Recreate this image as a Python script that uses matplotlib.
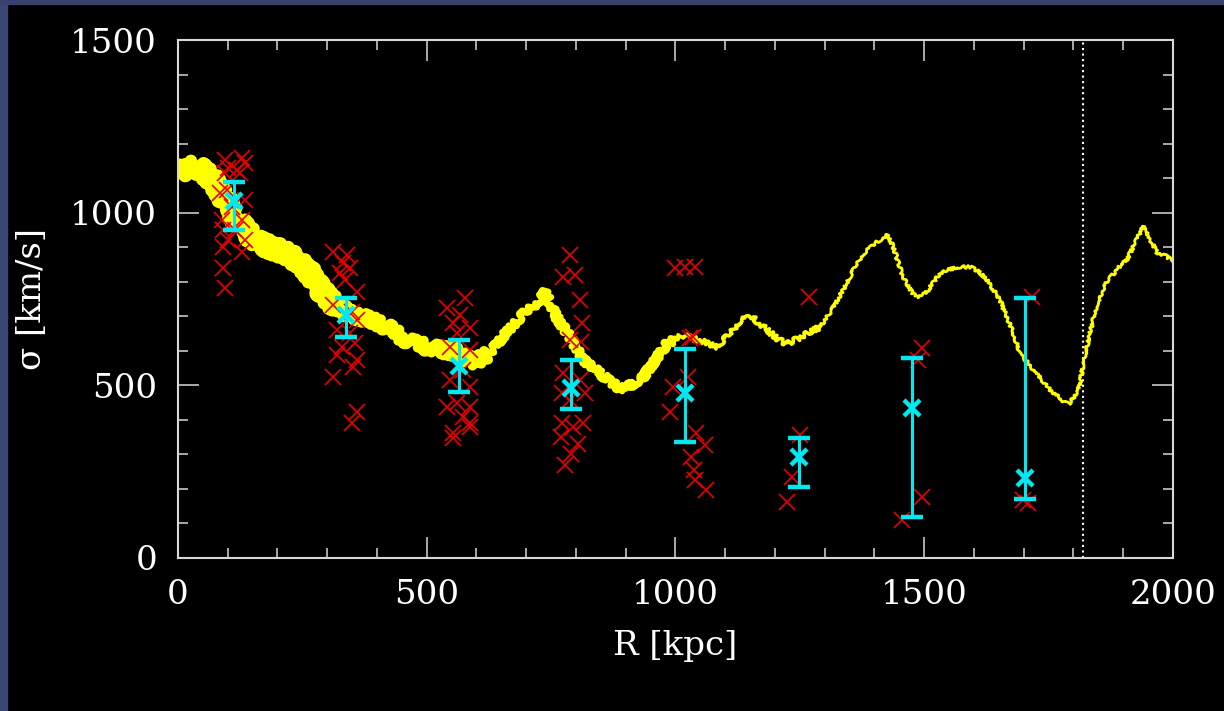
import numpy as np
import matplotlib
matplotlib.use("Agg")
import matplotlib.pyplot as plt
from matplotlib.patches import Rectangle
from matplotlib.ticker import MultipleLocator

# smoothed dispersion profile (yellow)
prof_r = [0, 20, 40, 60, 75, 90, 105, 120, 145, 160, 185, 205, 220, 240, 260, 280, 306, 330,
          360, 390, 412, 440, 466, 490, 521, 545, 561, 580, 601, 620, 633, 661, 693, 715, 728,
          738, 750, 762, 788, 814, 848, 870, 889, 910, 935, 960, 983, 1000, 1015, 1049, 1083,
          1110, 1130, 1154, 1184, 1210, 1224, 1250, 1270, 1290, 1315, 1337, 1360, 1377, 1405,
          1425, 1437, 1457, 1475, 1485, 1502, 1532, 1566, 1592, 1610, 1626, 1652, 1678, 1692,
          1719, 1740, 1753, 1779, 1790, 1803, 1813, 1819, 1833, 1847, 1867, 1890, 1908, 1928,
          1940, 1955, 1968, 1985, 2000]
prof_s = [1120, 1130, 1130, 1110, 1085, 1050, 1010, 975, 935, 915, 900, 890, 880, 860, 835,
          790, 745, 715, 700, 690, 675, 650, 625, 615, 605, 600, 595, 575, 570, 590, 605, 655,
          705, 730, 750, 770, 730, 695, 640, 575, 535, 510, 490, 500, 524, 575, 620, 635, 645,
          630, 612, 650, 688, 698, 660, 630, 620, 638, 655, 668, 720, 776, 840, 880, 915, 935,
          905, 815, 770, 756, 765, 825, 843, 843, 830, 805, 748, 655, 595, 545, 510, 487, 455,
          445, 470, 500, 560, 650, 735, 800, 840, 865, 925, 960, 920, 885, 875, 860]

# individual galaxies (red)
gal_r = [94, 129, 135, 101, 119, 94, 125, 84, 98, 135, 109, 88, 129, 90, 115, 101, 135, 90, 129,
         90, 94,
         312, 340, 332, 346, 326, 336, 360, 312, 350, 360, 320, 346, 356, 330, 320, 360, 352, 312,
         360, 350,
         577, 541, 567, 553, 587, 561, 547, 587, 573, 547, 587, 561, 587, 541, 573, 587, 553, 553,
         587,
         788, 774, 798, 808, 812, 788, 774, 808, 772, 788, 818, 772, 794, 814, 778, 790, 805, 770,
         810,
         1000, 1019, 1039, 1030, 1035, 1025, 995, 990, 1041, 1060, 1032, 1038, 1040, 1062,
         1268, 1250, 1234, 1224,
         1495, 1488, 1495, 1455,
         1716, 1698, 1708]
gal_s = [1153, 1158, 1144, 1129, 1124, 1115, 1115, 1057, 1066, 1037, 1017, 979, 979, 950, 950,
         921, 921, 901, 886, 840, 782,
         886, 877, 854, 840, 825, 805, 770, 733, 712, 689, 660, 652, 623, 611, 588, 573, 553, 524,
         423, 391,
         753, 724, 704, 681, 666, 652, 611, 602, 544, 515, 495, 449, 437, 437, 408, 379, 362, 347,
         391,
         877, 814, 820, 747, 681, 631, 536, 515, 478, 458, 478, 391, 379, 391, 270, 300, 330, 350,
         625,
         840, 843, 843, 637, 640, 524, 495, 423, 362, 327, 292, 255, 226, 197,
         756, 356, 235, 162,
         608, 573, 177, 110,
         756, 168, 159]

# binned means with errors (cyan)
bin_r = [112, 338, 565, 791, 1019, 1248, 1475, 1703]
bin_s = [1035, 704, 555, 493, 478, 292, 434, 231]
bin_hi = [1088, 753, 631, 573, 605, 348, 579, 753]
bin_lo = [950, 640, 481, 431, 336, 206, 118, 170]

r_vir = 1820

plt.rcParams['font.family'] = ['DejaVu Serif']
fig = plt.figure(figsize=(12.24, 7.11), dpi=100, facecolor='black')
fig.patches.append(Rectangle((0, 0), 7 / 1224, 1, transform=fig.transFigure,
                             color='#3c4674', zorder=0))
fig.patches.append(Rectangle((0, 1 - 4 / 711), 1, 4 / 711, transform=fig.transFigure,
                             color='#38416c', zorder=0))
ax = fig.add_axes([0.1454, 0.2152, 0.8129, 0.7285])
ax.set_facecolor('black')

# yellow profile, thick and noisy at small R, thin at large R
pr = np.array(prof_r)
ps = np.array(prof_s)
pieces = [(0, 330, 9, 7.0), (300, 620, 7, 5.5), (600, 1000, 4.5, 3.5),
          (980, 1300, 2.6, 2.5), (1280, 2000, 2.0, 1.5)]
for r0, r1, lw, sk in pieces:
    m = (pr >= r0) & (pr <= r1)
    ln, = ax.plot(pr[m], ps[m], color='#ffff00', lw=lw, solid_capstyle='round',
                  solid_joinstyle='round', zorder=2)
    ln.set_sketch_params(scale=sk, length=5, randomness=8)

ax.plot(gal_r, gal_s, ls='none', marker='x', ms=11.5, mew=1.2, color='#e80000', zorder=3)

yerr = [np.array(bin_s) - np.array(bin_lo), np.array(bin_hi) - np.array(bin_s)]
ax.errorbar(bin_r, bin_s, yerr=yerr, fmt='x', ms=12, mew=3.2, color='#00e8f0',
            ecolor='#00e8f0', elinewidth=2.2, capsize=8, capthick=2.5, zorder=4)

ax.axvline(r_vir, color='white', ls=':', lw=1.5, zorder=1)

ax.set_xlim(0, 2000)
ax.set_ylim(0, 1500)
ax.xaxis.set_major_locator(MultipleLocator(500))
ax.xaxis.set_minor_locator(MultipleLocator(100))
ax.yaxis.set_major_locator(MultipleLocator(500))
ax.yaxis.set_minor_locator(MultipleLocator(100))
for sp in ax.spines.values():
    sp.set_color('#d8d8d8')
    sp.set_linewidth(1.5)
ax.tick_params(which='both', direction='in', top=True, right=True, colors='#d8d8d8',
               labelcolor='white', labelsize=24.5, width=1.1)
ax.tick_params(which='major', length=15, pad=15)
ax.tick_params(which='minor', length=7)

ax.set_xlabel('R [kpc]', color='white', fontsize=24.5, labelpad=14)
ax.set_ylabel('σ [km/s]', color='white', fontsize=24.5, labelpad=16)

fig.savefig('out.png', dpi=100, facecolor='black')
